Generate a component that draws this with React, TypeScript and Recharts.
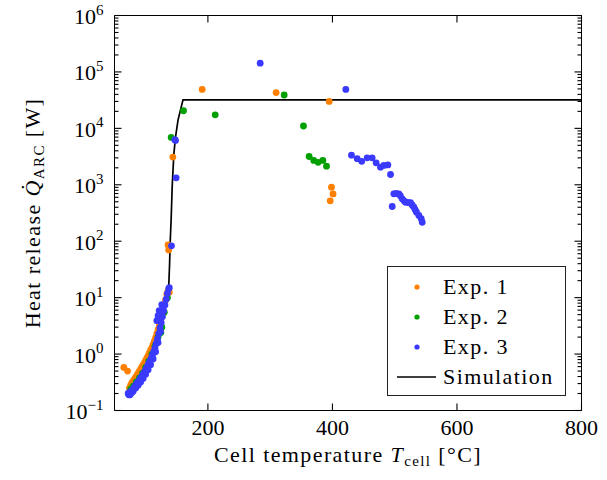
import React from 'react';
import { ComposedChart, Scatter, Line, XAxis, YAxis, Legend } from 'recharts';

// ---------------- data ----------------
const exp1 = [
  { x: 65, y: 0.58 }, { x: 71, y: 0.5 },
  { x: 74, y: 0.25 }, { x: 76, y: 0.28 }, { x: 78, y: 0.31 }, { x: 80, y: 0.33 },
  { x: 82, y: 0.36 }, { x: 84, y: 0.39 }, { x: 86, y: 0.42 }, { x: 88, y: 0.46 },
  { x: 90, y: 0.5 }, { x: 92, y: 0.54 }, { x: 94, y: 0.59 }, { x: 96, y: 0.64 },
  { x: 98, y: 0.7 }, { x: 100, y: 0.77 }, { x: 102, y: 0.85 }, { x: 104, y: 0.94 },
  { x: 106, y: 1.05 }, { x: 108, y: 1.17 }, { x: 110, y: 1.3 }, { x: 112, y: 1.48 },
  { x: 114, y: 1.7 }, { x: 116, y: 1.95 }, { x: 118, y: 2.3 }, { x: 120, y: 2.7 },
  { x: 122, y: 3.2 }, { x: 124, y: 3.9 }, { x: 126, y: 4.8 }, { x: 128, y: 5.9 },
  { x: 130, y: 7.3 }, { x: 132, y: 9 }, { x: 134, y: 11.5 }, { x: 136, y: 13 },
  { x: 138, y: 12.5 },
  { x: 136, y: 86 }, { x: 137, y: 70 }, { x: 143.7, y: 3100 },
  { x: 190.8, y: 49000 }, { x: 309.6, y: 43000 }, { x: 394.8, y: 30000 },
  { x: 398.5, y: 908 }, { x: 401, y: 690 }, { x: 396.4, y: 520 },
];

const exp2 = [
  { x: 76, y: 0.24 }, { x: 80, y: 0.27 }, { x: 85, y: 0.32 }, { x: 90, y: 0.38 },
  { x: 95, y: 0.46 }, { x: 100, y: 0.58 }, { x: 105, y: 0.75 }, { x: 110, y: 1.0 },
  { x: 115, y: 1.4 }, { x: 120, y: 2.0 }, { x: 124.5, y: 2.4 }, { x: 126, y: 3 },
  { x: 130, y: 5.5 }, { x: 135, y: 10 },
  { x: 141, y: 6900 }, { x: 160.8, y: 20500 }, { x: 211.7, y: 17400 },
  { x: 322.5, y: 39000 }, { x: 353.5, y: 11000 }, { x: 362.6, y: 3170 },
  { x: 370, y: 2700 }, { x: 377, y: 2500 }, { x: 384.6, y: 2700 }, { x: 390.5, y: 2140 },
];

const exp3 = [
  { x: 72, y: 0.2 }, { x: 73, y: 0.19 }, { x: 74, y: 0.21 }, { x: 75, y: 0.19 },
  { x: 76, y: 0.2 }, { x: 77, y: 0.22 }, { x: 78, y: 0.21 }, { x: 79, y: 0.23 },
  { x: 80, y: 0.22 }, { x: 81, y: 0.25 }, { x: 83, y: 0.27 }, { x: 84, y: 0.25 },
  { x: 85, y: 0.29 }, { x: 87, y: 0.31 }, { x: 88, y: 0.28 }, { x: 89, y: 0.33 },
  { x: 91, y: 0.36 }, { x: 92, y: 0.32 }, { x: 93, y: 0.39 }, { x: 95, y: 0.42 },
  { x: 96, y: 0.37 }, { x: 97, y: 0.46 }, { x: 99, y: 0.5 }, { x: 100, y: 0.44 },
  { x: 101, y: 0.55 }, { x: 103, y: 0.61 }, { x: 104, y: 0.53 }, { x: 105, y: 0.68 },
  { x: 107, y: 0.76 }, { x: 108, y: 0.65 }, { x: 109, y: 0.85 }, { x: 111, y: 0.96 },
  { x: 112, y: 0.82 }, { x: 113, y: 1.1 }, { x: 115, y: 1.3 }, { x: 116, y: 1.1 },
  { x: 117, y: 1.55 }, { x: 119, y: 1.85 }, { x: 120, y: 1.6 }, { x: 121, y: 2.3 },
  { x: 123, y: 2.9 }, { x: 124, y: 2.5 }, { x: 125, y: 3.6 }, { x: 127, y: 4.6 },
  { x: 129, y: 5.8 }, { x: 131, y: 7.4 }, { x: 133, y: 9.4 }, { x: 135, y: 12 },
  { x: 137, y: 14.5 }, { x: 138, y: 15 },
  { x: 118, y: 3.9 }, { x: 120, y: 4.8 }, { x: 121.8, y: 5.9 }, { x: 126, y: 7.5 },
  { x: 141.5, y: 83 }, { x: 146.8, y: 6300 }, { x: 148, y: 6100 }, { x: 149, y: 1330 },
  { x: 284, y: 143000 }, { x: 421.5, y: 49000 },
  { x: 430.6, y: 3350 }, { x: 439.8, y: 2900 }, { x: 447, y: 2600 }, { x: 455.8, y: 3000 },
  { x: 463.8, y: 3000 }, { x: 470.2, y: 2450 }, { x: 477.2, y: 2050 }, { x: 482.6, y: 2200 },
  { x: 489, y: 2250 }, { x: 493.3, y: 1520 }, { x: 496, y: 412 },
  { x: 498.6, y: 692 }, { x: 501, y: 700 }, { x: 503.5, y: 700 }, { x: 506.6, y: 692 },
  { x: 509, y: 640 }, { x: 512, y: 564 }, { x: 515, y: 520 }, { x: 517.4, y: 492 },
  { x: 521, y: 485 }, { x: 525.4, y: 480 }, { x: 528, y: 440 }, { x: 530.8, y: 401 },
  { x: 533, y: 360 }, { x: 535, y: 327 }, { x: 538.8, y: 286 }, { x: 542.6, y: 250 },
  { x: 544.2, y: 217 },
];

const simulation = [
  { x: 74, y: 0.24 }, { x: 80, y: 0.28 }, { x: 88, y: 0.37 }, { x: 95, y: 0.47 },
  { x: 102, y: 0.65 }, { x: 108, y: 0.92 }, { x: 114, y: 1.4 }, { x: 119, y: 2.2 },
  { x: 124, y: 3.6 }, { x: 128, y: 5.5 }, { x: 132, y: 8.8 }, { x: 135, y: 12 },
  { x: 137, y: 15 }, { x: 138.5, y: 40 }, { x: 139.5, y: 100 }, { x: 141, y: 250 },
  { x: 142.6, y: 900 }, { x: 145.3, y: 3500 }, { x: 148, y: 7000 }, { x: 152, y: 14000 },
  { x: 160, y: 32000 }, { x: 800, y: 32000 },
];

const xTicks = [200, 400, 600, 800];
const yExponents = [-1, 0, 1, 2, 3, 4, 5, 6];
const minorMultipliers = [2, 3, 4, 5, 6, 7, 8, 9];

const seriesNames = ['Exp. 1', 'Exp. 2', 'Exp. 3', 'Simulation'];
const seriesColors = ['#ff8000', '#00a000', '#3a3aff', '#000000'];

// ---------------- helpers ----------------
const yTicks: number[] = [];
yExponents.forEach((e, i) => {
  yTicks.push(Math.pow(10, e));
  if (i < yExponents.length - 1) minorMultipliers.forEach((m) => yTicks.push(m * Math.pow(10, e)));
});

const FONT = '"Liberation Serif", "DejaVu Serif", serif';
const AX = '#000';
const LS = 1.4;
const MAJ = 7;
const MIN = 4;
const TW = 1.1;

const isMajor = (v: number) => Math.abs(Math.log10(v) - Math.round(Math.log10(v))) < 1e-6;

const LeftTick = (p: any) => {
  const { x, y, payload } = p;
  const v = payload.value;
  const major = isMajor(v);
  const e = Math.round(Math.log10(v));
  return (
    <g>
      <line x1={x} x2={x + (major ? MAJ : MIN)} y1={y} y2={y} stroke={AX} strokeWidth={TW} />
      {major && (
        <text x={x - 11} y={y + 8.5} textAnchor="end" fontFamily={FONT} fontSize={22} fill="#000">
          10
          <tspan dy={-9.5} fontSize={15}>{e < 0 ? '\u2212' + Math.abs(e) : String(e)}</tspan>
        </text>
      )}
    </g>
  );
};

const RightTick = (p: any) => {
  const { x, y, payload } = p;
  const major = isMajor(payload.value);
  return <line x1={x} x2={x - (major ? MAJ : MIN)} y1={y} y2={y} stroke={AX} strokeWidth={TW} />;
};

const BottomTick = (p: any) => {
  const { x, y, payload } = p;
  return (
    <g>
      <line x1={x} x2={x} y1={y} y2={y - MAJ} stroke={AX} strokeWidth={TW} />
      <text x={x} y={y + 24} textAnchor="middle" fontFamily={FONT} fontSize={22} fill="#000">
        {payload.value}
      </text>
    </g>
  );
};

const TopTick = (p: any) => {
  const { x, y } = p;
  return <line x1={x} x2={x} y1={y} y2={y + MAJ} stroke={AX} strokeWidth={TW} />;
};

const XLabel = (p: any) => {
  const vb = p.viewBox;
  const cx = vb.x + vb.width / 2;
  return (
    <text x={cx} y={vb.y + 51} textAnchor="middle" fontFamily={FONT} fontSize={22} letterSpacing={LS} fill="#000">
      Cell temperature <tspan fontStyle="italic">T</tspan>
      <tspan fontSize={15} dy={4}>cell</tspan>
      <tspan dy={-4}> [°C]</tspan>
    </text>
  );
};

const YLabel = (p: any) => {
  const vb = p.viewBox;
  const cy = vb.y + vb.height / 2;
  return (
    <text
      transform={`translate(${vb.x + 39}, ${cy}) rotate(-90)`}
      textAnchor="middle"
      fontFamily={FONT}
      fontSize={22}
      letterSpacing={LS}
      fill="#000"
    >
      Heat release <tspan fontStyle="italic">Q{'\u0307'}</tspan>
      <tspan fontSize={15} dy={4}>ARC</tspan>
      <tspan dy={-4}> [W]</tspan>
    </text>
  );
};

const DotShape = (color: string) => (p: any) => {
  if (p.cx == null || p.cy == null) return <g />;
  return <circle cx={p.cx} cy={p.cy} r={3.4} fill={color} />;
};

const LegendBox = () => (
  <div
    style={{
      border: '1px solid #222',
      background: '#fff',
      width: 177,
      height: 123,
      boxSizing: 'content-box',
      fontFamily: FONT,
      fontSize: 22,
      letterSpacing: LS,
      paddingTop: 5,
    }}
  >
    {seriesNames.map((name, i) => (
      <div key={name} style={{ height: 30, display: 'flex', alignItems: 'center' }}>
        <svg width={55} height={30} style={{ display: 'block', flex: 'none' }}>
          {i < 3 ? (
            <circle cx={29} cy={15} r={2.6} fill={seriesColors[i]} />
          ) : (
            <line x1={9} x2={48} y1={15} y2={15} stroke="#000" strokeWidth={1.6} />
          )}
        </svg>
        <span style={{ lineHeight: '30px', whiteSpace: 'nowrap' }}>{name}</span>
      </div>
    ))}
  </div>
);

const axisLine = { stroke: AX, strokeWidth: 1 };

export default function App() {
  return (
    <div style={{ position: 'absolute', left: 0, top: 0, background: '#fff' }}>
      <ComposedChart width={607} height={480} margin={{ top: 14.5, right: 24.5, bottom: 0, left: 0.5 }}>
        <XAxis
          xAxisId="b"
          type="number"
          dataKey="x"
          domain={[50, 800]}
          ticks={xTicks}
          interval={0}
          allowDataOverflow
          height={69.5}
          tickSize={0}
          tickMargin={0}
          tickLine={false}
          axisLine={axisLine}
          tick={<BottomTick />}
          label={{ content: <XLabel /> } as any}
        />
        <XAxis
          xAxisId="t"
          orientation="top"
          type="number"
          dataKey="x"
          domain={[50, 800]}
          ticks={xTicks}
          interval={0}
          allowDataOverflow
          height={1}
          tickSize={0}
          tickMargin={0}
          tickLine={false}
          axisLine={axisLine}
          tick={<TopTick />}
        />
        <YAxis
          yAxisId="l"
          type="number"
          dataKey="y"
          scale="log"
          domain={[0.1, 1e6]}
          ticks={yTicks}
          interval={0}
          allowDataOverflow
          width={114}
          tickSize={0}
          tickMargin={0}
          tickLine={false}
          axisLine={axisLine}
          tick={<LeftTick />}
          label={{ content: <YLabel /> } as any}
        />
        <YAxis
          yAxisId="r"
          orientation="right"
          type="number"
          dataKey="y"
          scale="log"
          domain={[0.1, 1e6]}
          ticks={yTicks}
          interval={0}
          allowDataOverflow
          width={1}
          tickSize={0}
          tickMargin={0}
          tickLine={false}
          axisLine={axisLine}
          tick={<RightTick />}
        />
        <Scatter xAxisId="b" yAxisId="l" name={seriesNames[0]} data={exp1} fill={seriesColors[0]} shape={DotShape(seriesColors[0])} isAnimationActive={false} />
        <Scatter xAxisId="b" yAxisId="l" name={seriesNames[1]} data={exp2} fill={seriesColors[1]} shape={DotShape(seriesColors[1])} isAnimationActive={false} />
        <Scatter xAxisId="b" yAxisId="l" name={seriesNames[2]} data={exp3} fill={seriesColors[2]} shape={DotShape(seriesColors[2])} isAnimationActive={false} />
        <Line
          xAxisId="b"
          yAxisId="l"
          name={seriesNames[3]}
          data={simulation}
          dataKey="y"
          type="linear"
          stroke="#000"
          strokeWidth={1.7}
          dot={false}
          activeDot={false}
          isAnimationActive={false}
        />
        <Legend
          layout="vertical"
          align="center"
          verticalAlign="middle"
          content={<LegendBox />}
          wrapperStyle={{ left: 387, top: 266, width: 179, height: 130 }}
        />
      </ComposedChart>
    </div>
  );
}
